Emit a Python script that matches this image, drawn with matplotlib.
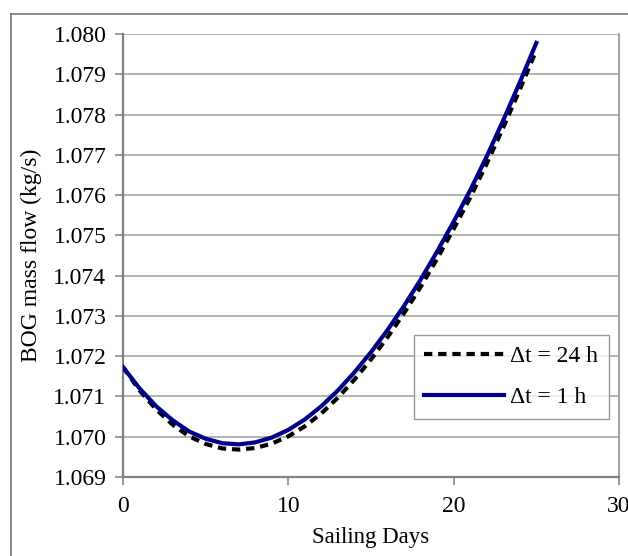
import matplotlib
matplotlib.use("Agg")
import matplotlib.pyplot as plt
from matplotlib.lines import Line2D

# dias de viagem e vazao de BOG (kg/s)
days = list(range(0, 26))
bog_24h = [1.07173, 1.07115, 1.07068, 1.07030, 1.07001, 1.06982, 1.06971,
           1.06968, 1.06972, 1.06983, 1.07001, 1.07026, 1.07058, 1.07097,
           1.07142, 1.07192, 1.07247, 1.07307, 1.07372, 1.07442, 1.07516,
           1.07594, 1.07678, 1.07768, 1.07862, 1.07960]
bog_1h = [1.07173, 1.07120, 1.07076, 1.07041, 1.07013, 1.06995, 1.06984,
          1.06981, 1.06986, 1.06998, 1.07017, 1.07043, 1.07076, 1.07115,
          1.07160, 1.07210, 1.07265, 1.07325, 1.07390, 1.07460, 1.07534,
          1.07612, 1.07696, 1.07786, 1.07880, 1.07978]
labels = ['\u0394t = 24 h', '\u0394t = 1 h']
x_ticks = [0, 10, 20, 30]
y_ticks = [1.069 + 0.001 * i for i in range(12)]

plt.rcParams['font.family'] = ['Liberation Serif', 'DejaVu Serif']

fig = plt.figure(figsize=(6.28, 5.56), dpi=100)
ax = fig.add_axes([123 / 628, 1 - 477 / 556, 496 / 628, 443 / 556])

ax.plot(days, bog_24h, color='black', lw=3, ls=(0, (2, 1.4)), label=labels[0], zorder=3)
ax.plot(days, bog_1h, color='#00008b', lw=3, label=labels[1], zorder=4)

ax.set_xlim(0, 30)
ax.set_ylim(1.069, 1.080)
ax.set_xticks(x_ticks)
ax.set_yticks(y_ticks)
ax.set_yticklabels([f'{v:.3f}' for v in y_ticks])
ax.tick_params(labelsize=17, color='#888888', length=6, width=1.2)
ax.tick_params(axis='y', pad=6)
ax.tick_params(axis='x', pad=8)
ax.grid(axis='y', color='#a6a6a6', lw=1.2)
ax.set_axisbelow(True)
for s in ['left', 'bottom']:
    ax.spines[s].set_color('#808080')
    ax.spines[s].set_linewidth(1.6)
ax.spines['right'].set_color('#999999')
ax.spines['right'].set_linewidth(1.3)
ax.spines['top'].set_visible(False)

ax.set_xlabel('Sailing Days', fontsize=16.5, labelpad=7)
ax.set_ylabel('BOG mass flow (kg/s)', fontsize=17, labelpad=8)

leg = ax.legend(loc='lower right', bbox_to_anchor=(609 / 628, 1 - 419 / 556),
                bbox_transform=fig.transFigure, fontsize=17, frameon=True,
                fancybox=False, edgecolor='#808080', handlelength=3.4,
                handletextpad=0.25, borderpad=0.45, labelspacing=0.85,
                borderaxespad=0)
leg.get_frame().set_linewidth(1.0)

# moldura externa
fig.add_artist(Line2D([10.5 / 628, 10.5 / 628], [0, 1 - 14 / 556], transform=fig.transFigure,
                      color='#777777', lw=1.2))
fig.add_artist(Line2D([10.5 / 628, 1], [1 - 14 / 556, 1 - 14 / 556], transform=fig.transFigure,
                      color='#777777', lw=1.2))

plt.savefig('out.png', dpi=100)
